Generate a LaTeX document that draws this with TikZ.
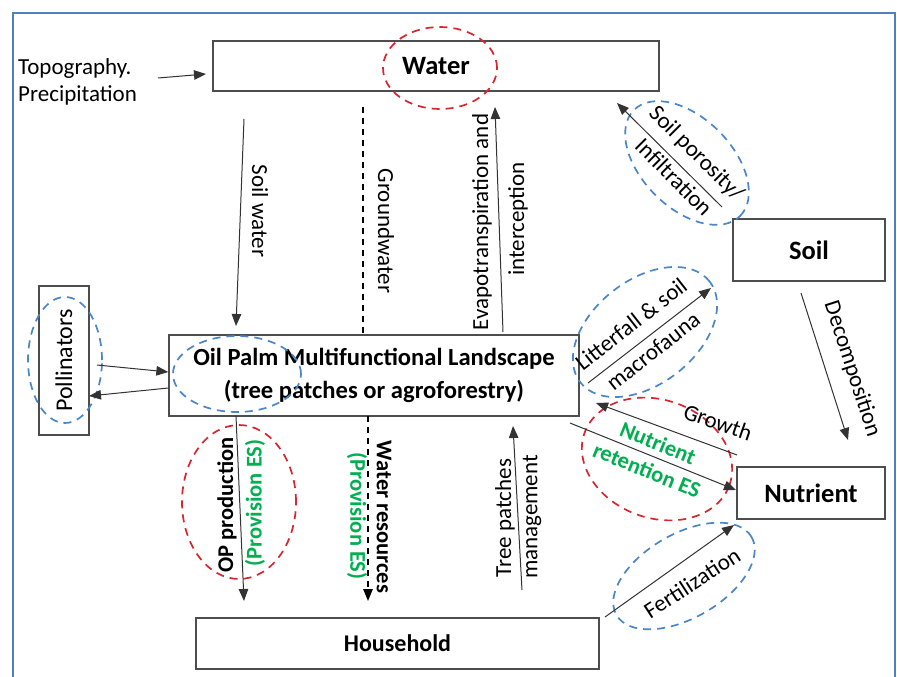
\documentclass[tikz,border=0pt]{standalone}
\usepackage{fontspec}
\setmainfont{Carlito}
\usetikzlibrary{arrows.meta,shapes.geometric}
\definecolor{frameblue}{HTML}{4F81BD}
\definecolor{dblue}{HTML}{4A86C8}
\definecolor{dred}{HTML}{D7262E}
\definecolor{esgreen}{HTML}{00B050}
\definecolor{boxgray}{HTML}{4D4D4D}
\definecolor{linegray}{HTML}{333333}
\begin{document}
\begin{tikzpicture}[x=1pt,y=-1pt,
  box/.style={draw=boxgray,line width=1.3pt,inner sep=0pt,rectangle,font=\fontsize{26.5}{30}\selectfont\bfseries},
  arr/.style={draw=linegray,line width=1pt,-{Triangle[length=12pt,width=9.5pt]}},
  lbl/.style={font=\fontsize{23}{27}\selectfont,inner sep=0pt},
  blbl/.style={font=\fontsize{22.5}{27}\selectfont\bfseries,inner sep=0pt},
  glbl/.style={blbl,text=esgreen},
  bluel/.style={draw=dblue,dash pattern=on 8pt off 6pt,line width=1.7pt,ellipse,inner sep=0pt},
  redl/.style={draw=dred,dash pattern=on 8pt off 6pt,line width=1.7pt,ellipse,inner sep=0pt}
]
\useasboundingbox (0,0) rectangle (897,677);
\fill[white] (0,0) rectangle (897,677);
\draw[frameblue,line width=2.5pt] (13,677) -- (13,13) -- (895,13) -- (895,677);

% boxes
\node[box,minimum width=446pt,minimum height=50pt] (water) at (436,66) {Water};
\node[box,minimum width=152pt,minimum height=62pt] (soil) at (809,250) {Soil};
\node[box,minimum width=410pt,minimum height=81pt,align=center,font=\fontsize{24.6}{33}\selectfont\bfseries] (opml) at (374,375.5) {Oil Palm Multifunctional Landscape\\(tree patches or agroforestry)};
\node[box,rotate=90,minimum width=149pt,minimum height=50pt,font=\fontsize{24}{28}\selectfont] (poll) at (64,360.5) {Pollinators};
\node[box,minimum width=148pt,minimum height=52pt] (nutr) at (811,493) {Nutrient};
\node[box,minimum width=403pt,minimum height=51pt,font=\fontsize{24}{28}\selectfont\bfseries] (house) at (397.5,643.5) {Household};

\node[lbl,anchor=west,align=left] (topo) at (18,82) {Topography.\\Precipitation};

% ellipses
\node[redl,minimum width=114pt,minimum height=82pt] (eWater) at (440,68) {};
\node[bluel,minimum width=150pt,minimum height=90pt,rotate=-45] (ePoro) at (687,163) {};
\node[bluel,minimum width=164pt,minimum height=104pt,rotate=38] (eLitter) at (645,332) {};
\node[bluel,minimum width=128pt,minimum height=76pt] (eOpml) at (237,374) {};
\node[bluel,minimum width=74pt,minimum height=126pt] (ePoll) at (65,360) {};
\node[redl,minimum width=114pt,minimum height=154pt] (eOP) at (239,502) {};
\node[redl,minimum width=154pt,minimum height=118pt,rotate=-20] (eRet) at (657,459) {};
\node[bluel,minimum width=156pt,minimum height=84pt,rotate=30] (eFert) at (684,576) {};

% connector end points
\coordinate (topoA) at (158,78);   \coordinate (topoB) at (206,74);
\coordinate (swA) at (244,119);    \coordinate (swB) at (236,326);
\coordinate (gwA) at (363,107);
\coordinate (evA) at (503,332);    \coordinate (evB) at (495,107);
\coordinate (poA) at (722,207);    \coordinate (poB) at (617,103);
\coordinate (p1A) at (97,365);     \coordinate (p1B) at (opml.west |- 0,372);
\coordinate (p2A) at (opml.west |- 0,388); \coordinate (p2B) at (89,396);
\coordinate (opA) at (236,416);    \coordinate (opB) at (244,601);
\coordinate (wrA) at (368,416);    \coordinate (wrB) at (368,601);
\coordinate (tpA) at (522,590);    \coordinate (tpB) at (513,426);
\coordinate (liA) at (588,383);    \coordinate (liB) at (711,288);
\coordinate (grA) at (737,455);    \coordinate (grB) at (596,403);
\coordinate (reA) at (570,423);    \coordinate (reB) at (736,490);
\coordinate (feA) at (605,617);    \coordinate (feB) at (734,525);
\coordinate (deA) at (801,293);    \coordinate (deB) at (848,440);

% connectors
\draw[arr] (topoA) -- (topoB);
\draw[arr] (swA) -- (swB);
\draw[draw=black,line width=1.4pt,dash pattern=on 6pt off 5pt] (gwA) -- (gwA |- opml.north);
\draw[arr] (evA) -- (evB);
\draw[arr] (poA) -- (poB);
\draw[arr] (p1A) -- (p1B);
\draw[arr] (p2A) -- (p2B);
\draw[arr] (opA) -- (opB);
\draw[arr,draw=black,line width=1.4pt,dash pattern=on 6pt off 5pt] (wrA) -- (wrB);
\draw[arr] (tpA) -- (tpB);
\draw[arr] (liA) -- (liB);
\draw[arr] (grA) -- (grB);
\draw[arr] (reA) -- (reB);
\draw[arr] (feA) -- (feB);
\draw[arr] (deA) -- (deB);

% labels
\node[lbl,rotate=-90] (lSW) at (260,211) {Soil water};
\node[lbl,rotate=-90] (lGW) at (386,231) {Groundwater};
\node[lbl,rotate=90] (lEv1) at (482,222) {Evapotranspiration and};
\node[lbl,rotate=90] (lEv2) at (518,219) {interception};
\node[lbl,rotate=-45] (lPo1) at (696,154) {Soil porosity/};
\node[lbl,rotate=-45] (lPo2) at (674,177) {Infiltration};
\node[lbl,rotate=38] (lLi1) at (631,324) {Litterfall \& soil};
\node[lbl,rotate=38] (lLi2) at (653,351) {macrofauna};
\node[lbl,rotate=-19] (lGr) at (718,422) {Growth};
\node[glbl,rotate=-22] (lRe1) at (658,443) {Nutrient};
\node[glbl,rotate=-22] (lRe2) at (647,470) {retention ES};
\node[lbl,rotate=33] (lFe) at (692,583) {Fertilization};
\node[lbl,rotate=-72] (lDe) at (852,369) {Decomposition};
\node[blbl,rotate=90] (lOP1) at (227,505) {OP production};
\node[glbl,rotate=90] (lOP2) at (255,503) {(Provision ES)};
\node[blbl,rotate=-90] (lWR1) at (384,517) {Water resources};
\node[glbl,rotate=-90] (lWR2) at (357,516) {(Provision ES)};
\node[lbl,rotate=90] (lTP1) at (505,518) {Tree patches};
\node[lbl,rotate=90] (lTP2) at (532,517) {management};
\end{tikzpicture}
\end{document}
